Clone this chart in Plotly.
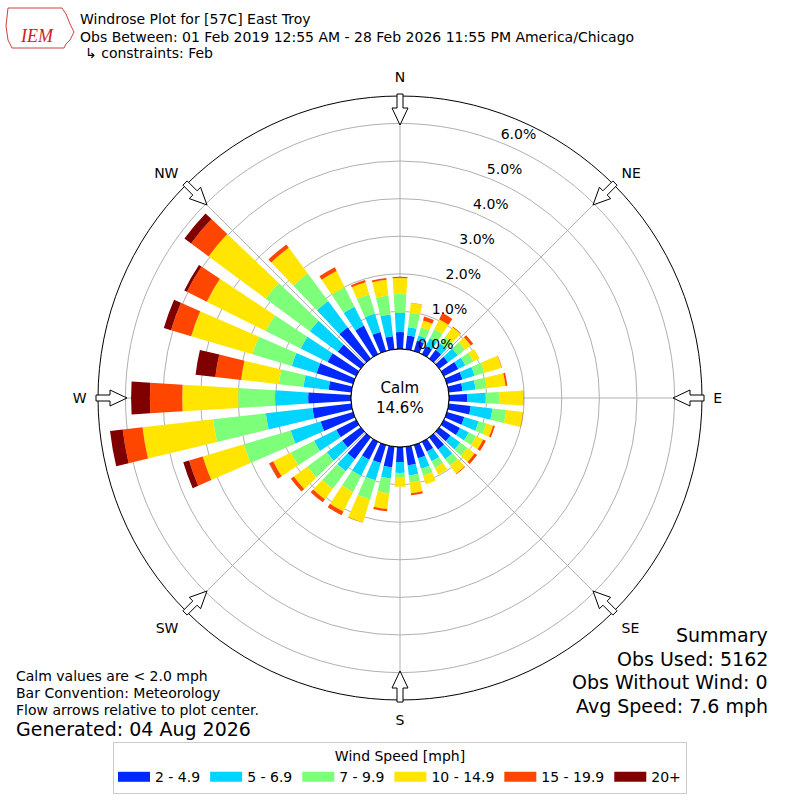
import math
import plotly.graph_objects as go

# wind direction bins (deg, meteorological) and speed bins
directions = list(range(0, 360, 10))
speed_bins = ['2 - 4.9', '5 - 6.9', '7 - 9.9', '10 - 14.9', '15 - 19.9', '20+']
bin_colors = ['#0028ff', '#00d4ff', '#7dff7a', '#ffe500', '#ff4600', '#800000']

# percent of observations per direction, one list per speed bin
pct_2_5 = [0.45, 0.37, 0.29, 0.24, 0.29, 0.29, 0.43, 0.43, 0.37, 0.48,
           0.59, 0.48, 0.48, 0.37, 0.40, 0.29, 0.37, 0.50, 0.40,
           0.56, 0.50, 0.53, 0.72, 0.61, 0.59, 0.90, 1.04, 1.14,
           0.61, 1.01, 0.85, 0.76, 1.04, 0.85, 0.53, 0.35]
pct_5_7 = [0.51, 0.22, 0.14, 0.24, 0.21, 0.32, 0.21, 0.34, 0.35, 0.50,
           0.58, 0.40, 0.26, 0.32, 0.32, 0.29, 0.29, 0.27, 0.29,
           0.29, 0.48, 0.48, 0.40, 0.51, 0.66, 0.83, 1.25, 0.88,
           0.67, 0.69, 0.80, 0.92, 0.87, 0.56, 0.51, 0.58]
pct_7_10 = [0.50, 0.39, 0.23, 0.26, 0.22, 0.24, 0.24, 0.27, 0.29, 0.35,
            0.37, 0.21, 0.22, 0.24, 0.21, 0.19, 0.19, 0.19, 0.13,
            0.40, 0.53, 0.48, 0.58, 0.64, 0.69, 1.30, 1.41, 0.98,
            0.66, 1.09, 1.04, 1.46, 0.91, 0.58, 0.53, 0.51]
pct_10_15 = [0.43, 0.26, 0.19, 0.29, 0.32, 0.19, 0.18, 0.48, 0.51, 0.64,
             0.45, 0.19, 0.21, 0.24, 0.27, 0.21, 0.24, 0.29, 0.24,
             0.42, 0.64, 0.58, 0.35, 0.45, 0.53, 1.14, 1.89, 1.49,
             1.01, 1.70, 1.75, 1.89, 0.85, 0.48, 0.34, 0.42]
pct_15_20 = [0.03, 0.01, 0.11, 0.19, 0.02, 0.08, 0.00, 0.01, 0.05, 0.01,
             0.01, 0.05, 0.08, 0.08, 0.02, 0.00, 0.00, 0.05, 0.00,
             0.06, 0.01, 0.11, 0.10, 0.10, 0.11, 0.38, 0.53, 0.86,
             0.69, 0.56, 0.59, 0.58, 0.11, 0.11, 0.06, 0.05]
pct_20_up = [0.00, 0.00, 0.00, 0.00, 0.00, 0.00, 0.00, 0.00, 0.00, 0.00,
             0.00, 0.00, 0.00, 0.00, 0.00, 0.00, 0.00, 0.00, 0.00,
             0.00, 0.00, 0.00, 0.00, 0.00, 0.01, 0.16, 0.34, 0.50,
             0.53, 0.20, 0.08, 0.22, 0.00, 0.00, 0.00, 0.00]
speed_values = [pct_2_5, pct_5_7, pct_7_10, pct_10_15, pct_15_20, pct_20_up]

calm_pct = 14.6
radial_ticks = [0, 1, 2, 3, 4, 5, 6]
radial_labels = ['%.1f%%' % v for v in radial_ticks]
compass_angles = [0, 45, 90, 135, 180, 225, 270, 315]
compass_labels = ['N', 'NE', 'E', 'SE', 'S', 'SW', 'W', 'NW']

W, H = 800, 800
CX, CY, R = 400, 398, 302   # polar centre / radius in pixels
HOLE = 49

fig = go.Figure()

for name, vals, col in zip(speed_bins, speed_values, bin_colors):
    fig.add_trace(go.Barpolar(r=vals, theta=directions, name=name,
                              width=7, marker_color=col, marker_line_width=0,
                              legendgroup=name, showlegend=False))
    # empty line trace only so the legend gets a wide flat swatch
    fig.add_trace(go.Scatterpolar(r=[None], theta=[None], mode='lines', name=name,
                                  line=dict(color=col, width=10),
                                  legendgroup=name, hoverinfo='skip'))

# black ring round the calm hole
fig.add_trace(go.Scatterpolar(r=[0] * 73, theta=list(range(0, 365, 5)),
                              mode='lines', line=dict(color='black', width=1),
                              showlegend=False, hoverinfo='skip',
                              cliponaxis=False))

# percent labels on the rings, like matplotlib puts them
fig.add_trace(go.Scatterpolar(r=radial_ticks, theta=[21.5] * len(radial_ticks),
                              mode='text', text=radial_labels,
                              textposition='top right',
                              textfont=dict(size=14, color='black'),
                              showlegend=False, hoverinfo='skip',
                              cliponaxis=False))


def px(x, y):
    return x / W, 1 - y / H


def arrow_path(bearing):
    t = math.radians(bearing)
    ux, uy = math.sin(t), -math.cos(t)
    vx, vy = -uy, ux
    pts = [(304, 3), (290, 3), (290, 8), (273, 0), (290, -8), (290, -3), (304, -3)]
    out = []
    for r, w in pts:
        x, y = px(CX + r * ux + w * vx, CY + r * uy + w * vy)
        out.append('%.5f,%.5f' % (x, y))
    return 'M' + ' L'.join(out) + ' Z'


shapes = []
for a in compass_angles:
    shapes.append(dict(type='path', path=arrow_path(a), xref='paper', yref='paper',
                       fillcolor='white', line=dict(color='black', width=1),
                       layer='above'))

# rough IEM logo outline
logo = [(8, 8), (62, 8), (66, 14), (70, 24), (74, 32), (70, 40), (66, 44),
        (64, 48), (12, 48), (8, 40), (6, 26)]
shapes.append(dict(type='path', xref='paper', yref='paper',
                   path='M' + ' L'.join('%.5f,%.5f' % px(x, y) for x, y in logo) + ' Z',
                   line=dict(color='#d04040', width=1)))

fig.update_layout(
    width=W, height=H,
    margin=dict(l=0, r=0, t=0, b=0),
    paper_bgcolor='white',
    font=dict(family='DejaVu Sans', size=14, color='black'),
    shapes=shapes,
    polar=dict(
        domain=dict(x=[(CX - R) / W, (CX + R) / W], y=[1 - (CY + R) / H, 1 - (CY - R) / H]),
        bgcolor='white',
        hole=HOLE / R,
        barmode='stack',
        angularaxis=dict(rotation=90, direction='clockwise',
                         tickvals=compass_angles, ticktext=compass_labels,
                         showline=True, linecolor='black', linewidth=1,
                         gridcolor='#b0b0b0', gridwidth=1,
                         ticks='outside', ticklen=8, tickcolor='rgba(0,0,0,0)',
                         tickfont=dict(size=14)),
        radialaxis=dict(range=[0, 6.73], tickvals=radial_ticks,
                        showticklabels=False, showline=False, ticks='',
                        gridcolor='#b0b0b0', gridwidth=1),
    ),
    legend=dict(orientation='h', x=0.5, xanchor='center', y=1 - 742 / H, yanchor='top',
                bordercolor='#cccccc', borderwidth=1, font=dict(size=14), itemwidth=32,
                title=dict(text='Wind Speed [mph]', side='top center', font=dict(size=14))),
)

# title block
fig.add_annotation(x=78 / W, y=1 - 19 / H, text='Windrose Plot for [57C] East Troy')
fig.add_annotation(x=78 / W, y=1 - 37 / H,
                   text='Obs Between: 01 Feb 2019 12:55 AM - 28 Feb 2026 11:55 PM America/Chicago')
fig.add_annotation(x=83 / W, y=1 - 53 / H, text='↳ constraints: Feb')
fig.add_annotation(x=37 / W, y=1 - 36 / H, text='<i>IEM</i>', xanchor='center',
                   font=dict(family='Liberation Serif', size=18, color='#d02020'))

# calm in the middle
fig.add_annotation(x=CX / W, y=1 - CY / H, text='Calm<br>%.1f%%' % calm_pct,
                   xanchor='center', font=dict(size=15))

# notes bottom left
fig.add_annotation(x=14 / W, y=1 - 676 / H, text='Calm values are < 2.0 mph', font=dict(size=14))
fig.add_annotation(x=14 / W, y=1 - 693 / H, text='Bar Convention: Meteorology', font=dict(size=14))
fig.add_annotation(x=14 / W, y=1 - 710 / H, text='Flow arrows relative to plot center.', font=dict(size=14))
fig.add_annotation(x=14 / W, y=1 - 729 / H, text='Generated: 04 Aug 2026', font=dict(size=19))

# summary bottom right
summary = ['Summary', 'Obs Used: 5162', 'Obs Without Wind: 0', 'Avg Speed: 7.6 mph']
for i, line in enumerate(summary):
    fig.add_annotation(x=770 / W, y=1 - (635 + 23.5 * i) / H, text=line,
                       xanchor='right', font=dict(size=19))

fig.update_annotations(xref='paper', yref='paper', showarrow=False, yanchor='middle')
for a in fig.layout.annotations:
    if a.xanchor is None:
        a.xanchor = 'left'

fig.write_html('out.html', config={'displayModeBar': False},
               post_script="document.body.style.margin='0';")
